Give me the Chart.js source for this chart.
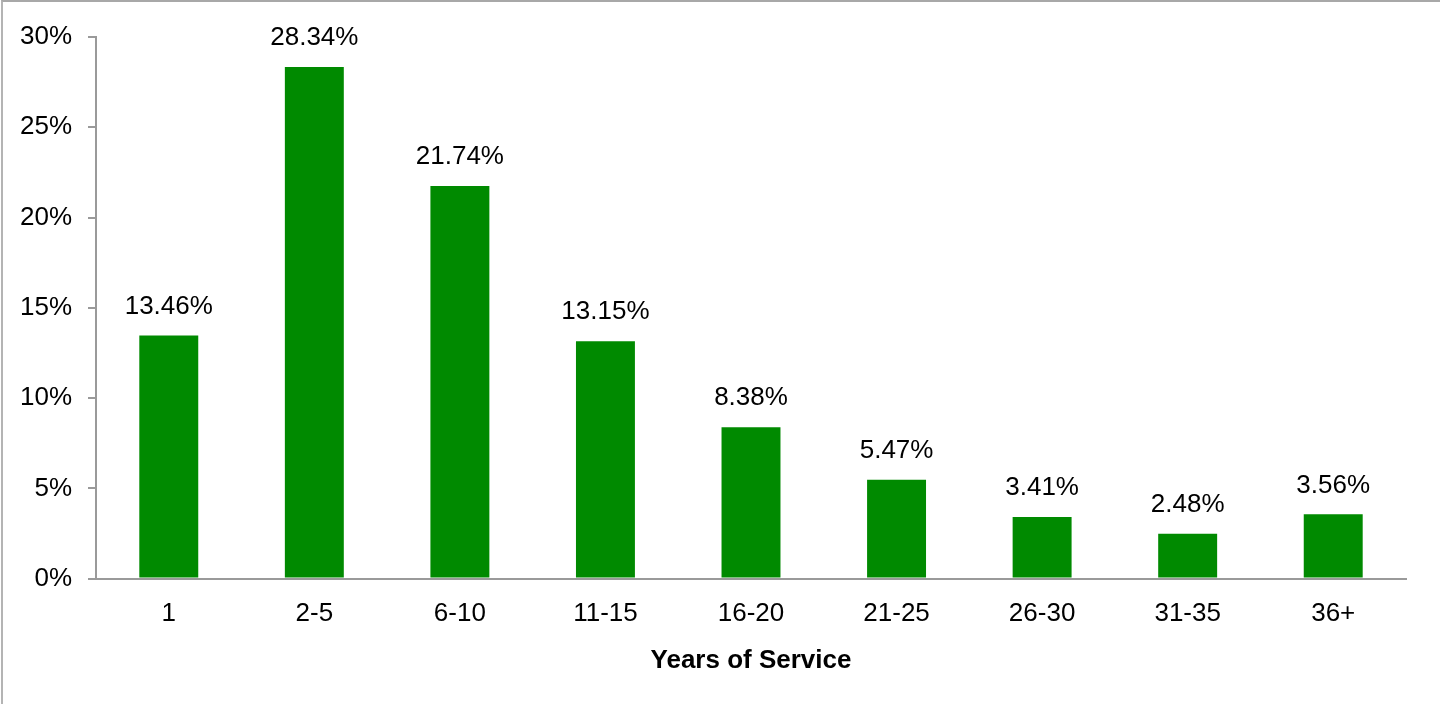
<!DOCTYPE html>
<html>
<head>
<meta charset="utf-8">
<script src="https://cdn.jsdelivr.net/npm/chart.js@4"></script>
<style>
  body { margin: 0; background: #fff; }
  #wrap { position: relative; width: 1440px; height: 704px; overflow: hidden; }
  #frame { position: absolute; left: 1px; top: 0px; width: 1450px; height: 710px; border-left: 2px solid #b4b4b4; border-top: 2px solid #a8a8a8; }
  canvas { position: absolute; left: 0; top: 0; }
</style>
</head>
<body>
<div id="wrap">
  <canvas id="chart" width="1440" height="704"></canvas>
  <div id="frame"></div>
</div>
<script>
const categories = ['1', '2-5', '6-10', '11-15', '16-20', '21-25', '26-30', '31-35', '36+'];
const shares = [13.46, 28.34, 21.74, 13.15, 8.38, 5.47, 3.41, 2.48, 3.56];
const yTicks = [0, 5, 10, 15, 20, 25, 30];

const font = { family: '"Liberation Sans", Arial, sans-serif', size: 26 };

// value labels above bars
const barLabels = {
  id: 'barLabels',
  afterDatasetsDraw(chart) {
    const ctx = chart.ctx;
    const meta = chart.getDatasetMeta(0);
    ctx.save();
    ctx.font = `${font.size}px ${font.family}`;
    ctx.fillStyle = '#000';
    ctx.textAlign = 'center';
    ctx.textBaseline = 'middle';
    meta.data.forEach((bar, i) => {
      ctx.fillText(shares[i].toFixed(2) + '%', bar.x, bar.y - 29);
    });
    ctx.restore();
  }
};

const ctx = document.getElementById('chart').getContext('2d');
const chart = new Chart(ctx, {
  type: 'bar',
  data: {
    labels: categories,
    datasets: [{
      data: shares,
      backgroundColor: '#008A00',
      barPercentage: 0.405,
      categoryPercentage: 1
    }]
  },
  options: {
    responsive: false,
    devicePixelRatio: 1,
    animation: false,
    layout: { padding: { top: 37, right: 34, left: 0, bottom: 28 } },
    plugins: { legend: { display: false }, tooltip: { enabled: false } },
    scales: {
      x: {
        grid: { display: false, drawTicks: false },
        border: { color: '#9a9a9a', width: 2 },
        ticks: { color: '#000', font: font, padding: 20 },
        title: {
          display: true,
          text: 'Years of Service',
          color: '#000',
          font: { family: font.family, size: 26, weight: 'bold' },
          padding: { top: -5, bottom: 0 }
        }
      },
      y: {
        min: 0,
        max: 30,
        afterFit(scale) { scale.width = 96; },
        afterBuildTicks(scale) { scale.ticks = yTicks.map(v => ({ value: v })); },
        grid: { drawOnChartArea: false, tickLength: 8, color: '#9a9a9a', lineWidth: 2 },
        border: { color: '#9a9a9a', width: 2 },
        ticks: { color: '#000', font: font, padding: 16, callback: v => v + '%' }
      }
    }
  },
  plugins: [barLabels]
});
</script>
</body>
</html>
